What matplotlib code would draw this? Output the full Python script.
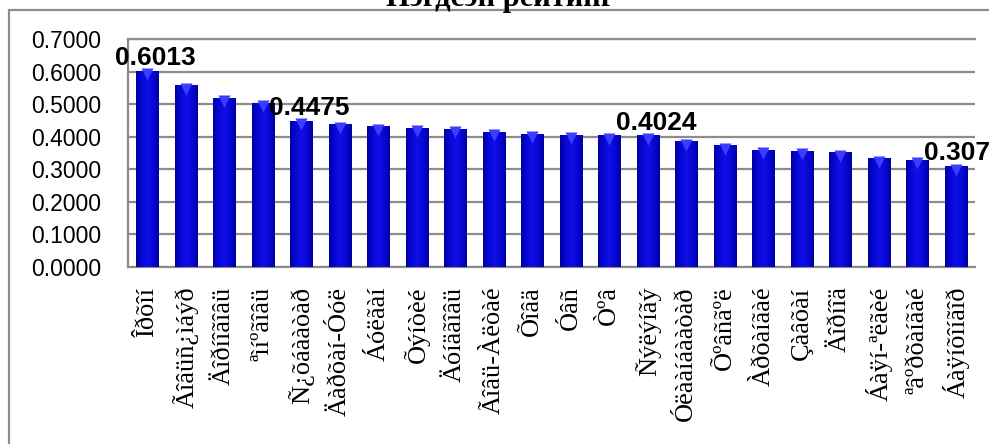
import numpy as np
import matplotlib
matplotlib.use("Agg")
import matplotlib.pyplot as plt
from matplotlib.patches import Rectangle
import matplotlib.transforms as mtransforms

# region names (as they appear in the source chart) and overall scores
regions = [
    "Îðõîí", "Ãîâüñ¿ìáýð", "Äîðíîãîâü", "ªìíºãîâü", "Ñ¿õáààòàð",
    "Äàðõàí-Óóë", "Áóëãàí", "Õýíòèé", "Äóíäãîâü", "Ãîâü-Àëòàé",
    "Õîâä", "Óâñ", "Òºâ", "Ñýëýíãý", "Óëààíáààòàð", "Õºâñãºë",
    "Àðõàíãàé", "Çàâõàí", "Äîðíîä", "Áàÿí-ªëãèé", "ªâºðõàíãàé",
    "Áàÿíõîíãîð",
]
scores = [
    0.6013, 0.557, 0.518, 0.503, 0.4475,
    0.437, 0.430, 0.426, 0.423, 0.413,
    0.408, 0.405, 0.403, 0.4024, 0.384, 0.372,
    0.359, 0.355, 0.350, 0.333, 0.327,
    0.3076,
]
labelled = [0, 4, 13, 21]
yticks = [0.0, 0.1, 0.2, 0.3, 0.4, 0.5, 0.6, 0.7]
title = "Нэгдсэн рейтинг"

W, H = 989, 444
fig = plt.figure(figsize=(W / 100, H / 100), dpi=100)

# outer chart frame (cut by the image border on right and bottom)
fig.patches.append(Rectangle((9 / W, -0.05), 1.1, (H - 10) / H + 0.05,
                             transform=fig.transFigure, fill=False,
                             edgecolor="#8c8c8c", linewidth=1.6))

fig.text(0.506, 1 - 6 / H, title, ha="center", va="baseline",
         fontsize=22, fontweight="bold", family="Liberation Serif")

ax = fig.add_axes([128 / W, 1 - 267 / H, (975 - 128) / W, (267 - 39) / H])

x = np.arange(len(regions))
bars = ax.bar(x, scores, width=0.58, color="#0000d8", edgecolor="#00008a",
              linewidth=0.6, zorder=3)

# horizontal shading inside each bar
grad = np.linspace(0, 1, 64)
shade = np.abs(grad - 0.5) * 2
img = np.zeros((1, 64, 3))
img[0, :, 2] = 0.90 - 0.28 * shade ** 2
img[0, :, 0] = 0.06 * (1 - shade)
img[0, :, 1] = 0.06 * (1 - shade)
for b in bars:
    bx, by = b.get_x(), b.get_y()
    ax.imshow(img, extent=(bx, bx + b.get_width(), by, by + b.get_height()),
              aspect="auto", clip_path=b, zorder=3.5, interpolation="bicubic")

# lighter bevel on the top of each bar
off = mtransforms.offset_copy(ax.transData, fig=fig, x=0, y=-3, units="dots")
ax.plot(x, scores, "v", ms=8, color="#3d3dff", mec="none",
        transform=off, zorder=4)

for i in labelled:
    ax.annotate(f"{scores[i]:.4f}", (x[i], scores[i]), xytext=(6, 1),
                textcoords="offset points", ha="center", va="bottom",
                fontsize=19, fontweight="bold", family="Liberation Sans",
                annotation_clip=False, zorder=6)

ax.set_xlim(-0.5, len(regions) - 0.5)
ax.set_ylim(0, 0.7)
ax.set_yticks(yticks)
ax.set_yticklabels([f"{v:.4f}" for v in yticks], fontsize=16.5,
                   family="Liberation Sans")
ax.set_xticks(x)
ax.set_xticklabels(regions, rotation=90, fontsize=19,
                   family="Liberation Serif")
ax.tick_params(axis="y", length=0, pad=19)
ax.tick_params(axis="x", length=0, pad=14)
ax.grid(axis="y", color="#8c8c8c", linewidth=1.6, zorder=0)
ax.set_axisbelow(True)
for side in ["top", "left", "right", "bottom"]:
    ax.spines[side].set_color("#8c8c8c")
    ax.spines[side].set_linewidth(1.6)
ax.spines["right"].set_visible(False)

fig.savefig("out.png", dpi=100)
